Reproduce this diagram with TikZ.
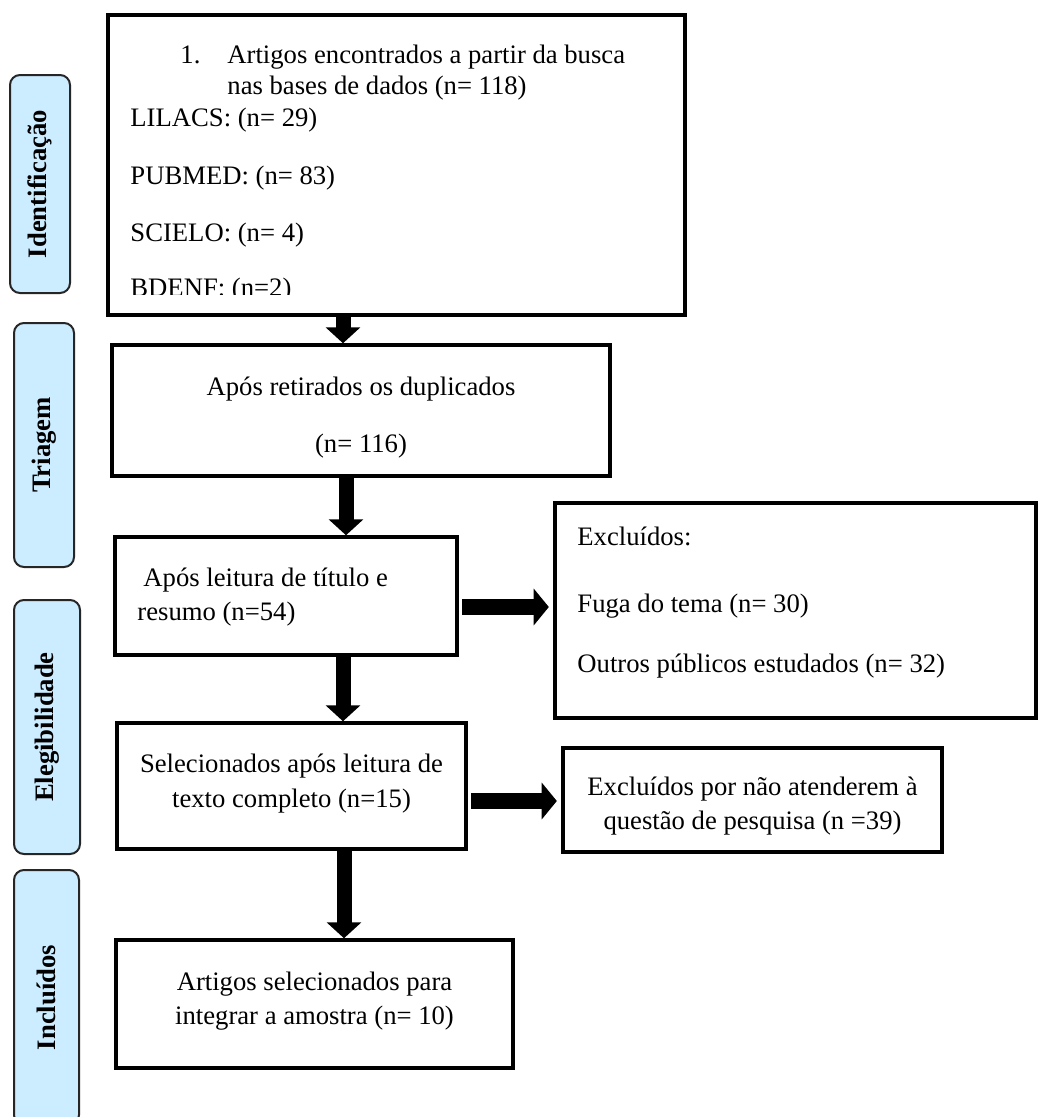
\documentclass[tikz,border=0pt]{standalone}
\usepackage{fontspec}
\setmainfont{Liberation Serif}
\usetikzlibrary{arrows.meta,fit}
\definecolor{lblue}{RGB}{204,236,255}
\begin{document}
\begin{tikzpicture}[x=0.45pt,y=-0.45pt,
  box/.style={draw=black, line width=1.55pt, inner sep=0pt},
  lbl/.style={draw=black!85, line width=0.9pt, fill=lblue, rounded corners=4.5pt, inner sep=0pt},
  lbltext/.style={rotate=90, inner sep=0pt, font=\fontsize{12pt}{14pt}\selectfont\bfseries},
  txt/.style={font=\fontsize{12pt}{15.75pt}\selectfont, inner sep=0pt},
  downarrow/.style={line width=6.75pt, -{Triangle[width=15.3pt,length=7.2pt]}},
  rightarrow/.style={line width=7.6pt, -{Triangle[width=16.2pt,length=6.8pt]}, shorten <=1.5pt, shorten >=2pt},
]
\clip (0,0) rectangle (1038,1117);
\fill[white] (0,0) rectangle (1038,1117);

% stage labels
\node[lbl, fit={(10,75) (70,293)}] (l1) {};
\node[lbltext] (l1t) at (l1.center) {Identificação};
\node[lbl, fit={(14,323) (74,567)}] (l2) {};
\node[lbltext] (l2t) at (l2.center) {Triagem};
\node[lbl, fit={(14,600) (80,854)}] (l3) {};
\node[lbltext] (l3t) at (l3.center) {Elegibilidade};
\node[lbl, fit={(14,870) (79,1125)}] (l4) {};
\node[lbltext] (l4t) at (l4.center) {Incluídos};

% boxes
\node[box, fit={(108,15) (685,315)}] (b1) {};
\node[box, fit={(112,345) (610,476)}] (b2) {};
\node[box, fit={(115,537) (457,655)}] (b3) {};
\node[box, fit={(117,723) (466,849)}] (b4) {};
\node[box, fit={(116,940) (513,1068)}] (b5) {};
\node[box, fit={(555,503) (1036,718)}] (e1) {};
\node[box, fit={(563,748) (942,852)}] (e2) {};

% box 1 text
\node[txt, anchor=base west] (t1n) at (180,63) {1.};
\node[txt, anchor=base west] (t1a) at (227,63) {Artigos encontrados a partir da busca};
\node[txt, anchor=base west] (t1b) at (227,94) {nas bases de dados (n= 118)};
\node[txt, anchor=base west] (t1c) at (130,126) {LILACS: (n= 29)};
\node[txt, anchor=base west] (t1d) at (130,184) {PUBMED: (n= 83)};
\node[txt, anchor=base west] (t1e) at (130,241) {SCIELO: (n= 4)};
\begin{scope}
\clip (108,15) rectangle (685,294);
\node[txt, anchor=base west] (t1f) at (130,296) {BDENF: (n=2)};
\end{scope}

% box 2 text
\node[txt, anchor=base] (t2a) at (361,395) {Após retirados os duplicados};
\node[txt, anchor=base] (t2b) at (361,452) {(n= 116)};

% box 3 text
\node[txt, anchor=base west] (t3a) at (143,586) {Após leitura de título e};
\node[txt, anchor=base west] (t3b) at (137,620) {resumo (n=54)};

% box 4 text
\node[txt, anchor=base] (t4a) at (291.5,772) {Selecionados após leitura de};
\node[txt, anchor=base] (t4b) at (291.5,807) {texto completo (n=15)};

% box 5 text
\node[txt, anchor=base] (t5a) at (314.5,990) {Artigos selecionados para};
\node[txt, anchor=base] (t5b) at (314.5,1024) {integrar a amostra (n= 10)};

% exclusion 1 text
\node[txt, anchor=base west] (e1a) at (577,545) {Excluídos:};
\node[txt, anchor=base west] (e1b) at (577,612) {Fuga do tema (n= 30)};
\node[txt, anchor=base west] (e1c) at (577,672) {Outros públicos estudados (n= 32)};

% exclusion 2 text
\node[txt, anchor=base] (e2a) at (752.5,795) {Excluídos por não atenderem à};
\node[txt, anchor=base] (e2b) at (752.5,829) {questão de pesquisa (n =39)};

% arrow guide coordinates
\coordinate (a1) at (343,0);
\coordinate (a2) at (346,0);
\coordinate (a3) at (343,0);
\coordinate (a4) at (344,0);
\coordinate (r1) at (0,607);
\coordinate (r2) at (0,801);

% arrows
\draw[downarrow] (b1.south -| a1) -- (b2.north -| a1);
\draw[downarrow] (b2.south -| a2) -- (b3.north -| a2);
\draw[downarrow] (b3.south -| a3) -- (b4.north -| a3);
\draw[downarrow] (b4.south -| a4) -- (b5.north -| a4);
\draw[rightarrow] (b3.east |- r1) -- (e1.west |- r1);
\draw[rightarrow] (b4.east |- r2) -- (e2.west |- r2);
\end{tikzpicture}
\end{document}
